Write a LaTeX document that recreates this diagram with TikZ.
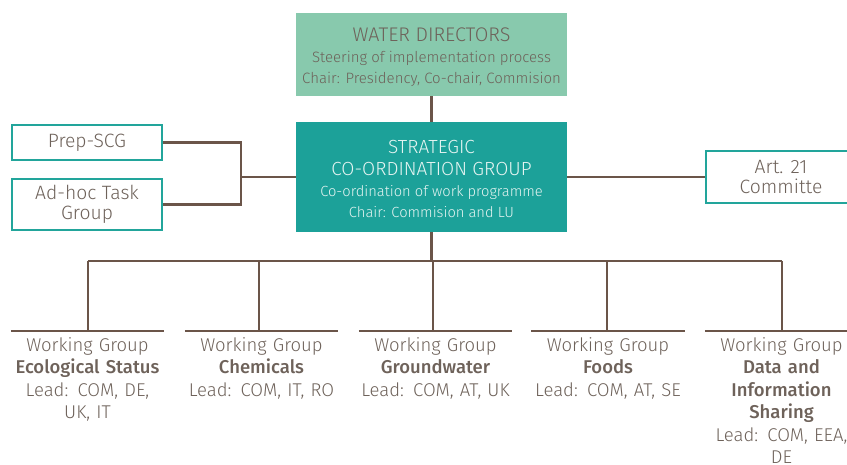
\documentclass[tikz,border=0pt]{standalone}
\usepackage{fontspec}
\setmainfont{Fira Sans Light}[BoldFont={Fira Sans Medium}]
\definecolor{txt}{HTML}{6E625A}
\definecolor{txtb}{HTML}{5A4A40}
\definecolor{mint}{HTML}{88C9AD}
\definecolor{teal}{HTML}{1CA199}
\definecolor{tealb}{HTML}{22A59B}
\definecolor{brn}{HTML}{6B5549}
\definecolor{lt}{HTML}{E4F4F1}
\tikzset{
  conn/.style={draw=brn, line width=2.5pt},
  fillbox/.style={rectangle, inner sep=0pt, align=center, text=txt, minimum width=271pt},
  linebox/.style={rectangle, draw=tealb, line width=2.5pt, fill=white, inner sep=0pt, align=center, text=txt, font=\fontsize{19.3}{19.5}\selectfont},
  wgroup/.style={rectangle, inner sep=0pt, anchor=north, align=center, text=txt, text width=153pt, font=\fontsize{18.5}{22.5}\selectfont},
  bar/.style={draw=brn, line width=2.5pt},
}
\begin{document}
\begin{tikzpicture}[x=1pt,y=-1pt]
\useasboundingbox (0,0) rectangle (847,464);
\clip (0,0) rectangle (847,464);
% top boxes
\node[fillbox, fill=mint, minimum height=83pt, font=\fontsize{15}{21}\selectfont] (wd) at (431.5,54.5)
  {\rule{0pt}{19pt}{\fontsize{19.7}{21}\selectfont WATER DIRECTORS}\\
   Steering of implementation process\\
   Chair: Presidency, Co-chair, Commision};
\node[fillbox, fill=teal, text=lt, minimum height=110pt, font=\fontsize{14.7}{21.3}\selectfont] (scg) at (431.5,177)
  {\rule{0pt}{18pt}{\fontsize{19}{21}\selectfont STRATEGIC}\\
   {\fontsize{19}{21}\selectfont CO-ORDINATION GROUP}\\
   Co-ordination of work programme\\
   Chair: Commision and LU};
\node[linebox, minimum width=150pt, minimum height=35pt] (prep) at (87,142.5) {Prep-SCG};
\node[linebox, minimum width=150pt, minimum height=51pt] (adhoc) at (87,204.5) {Ad-hoc Task\\Group};
\node[linebox, minimum width=150pt, minimum height=52pt] (art) at (781,177) {Art. 21\\Committe};
% working groups
\node[wgroup] (wg1) at (87.5,337) {Working Group\\\textbf{Ecological Status}\\Lead: COM, DE,\\UK, IT};
\node[wgroup] (wg2) at (261.5,337) {Working Group\\\textbf{Chemicals}\\Lead: COM, IT, RO};
\node[wgroup] (wg3) at (435.5,337) {Working Group\\\textbf{Groundwater}\\Lead: COM, AT, UK};
\node[wgroup] (wg4) at (608,337) {Working Group\\\textbf{Foods}\\Lead: COM, AT, SE};
\node[wgroup] (wg5) at (781.5,337) {Working Group\\\textbf{Data and}\\\textbf{Information}\\\textbf{Sharing}\\Lead: COM, EEA,\\DE};
% bars
\foreach \i in {1,...,5} {\draw[bar] ([yshift=6pt]wg\i.north west) -- ([yshift=6pt]wg\i.north east);}
% connectors
\coordinate (j) at (241,177);
\draw[conn] (prep.east) -| (j) -- (scg.west);
\draw[conn] (adhoc.east) -| (j);
\draw[conn] (wd.south) -- (scg.north);
\draw[conn] (scg.east) -- (art.west);
\coordinate (b1) at (88,261);
\coordinate (b2) at (259,261);
\coordinate (b3) at (433,261);
\coordinate (b4) at (607,261);
\coordinate (b5) at (782,261);
\draw[conn] (scg.south) -- (scg.south |- b1);
\draw[conn] (b1) -- (b5);
\foreach \i in {1,...,5} {\draw[conn] (b\i) -- ([yshift=6pt]b\i |- wg\i.north);}
\end{tikzpicture}
\end{document}
